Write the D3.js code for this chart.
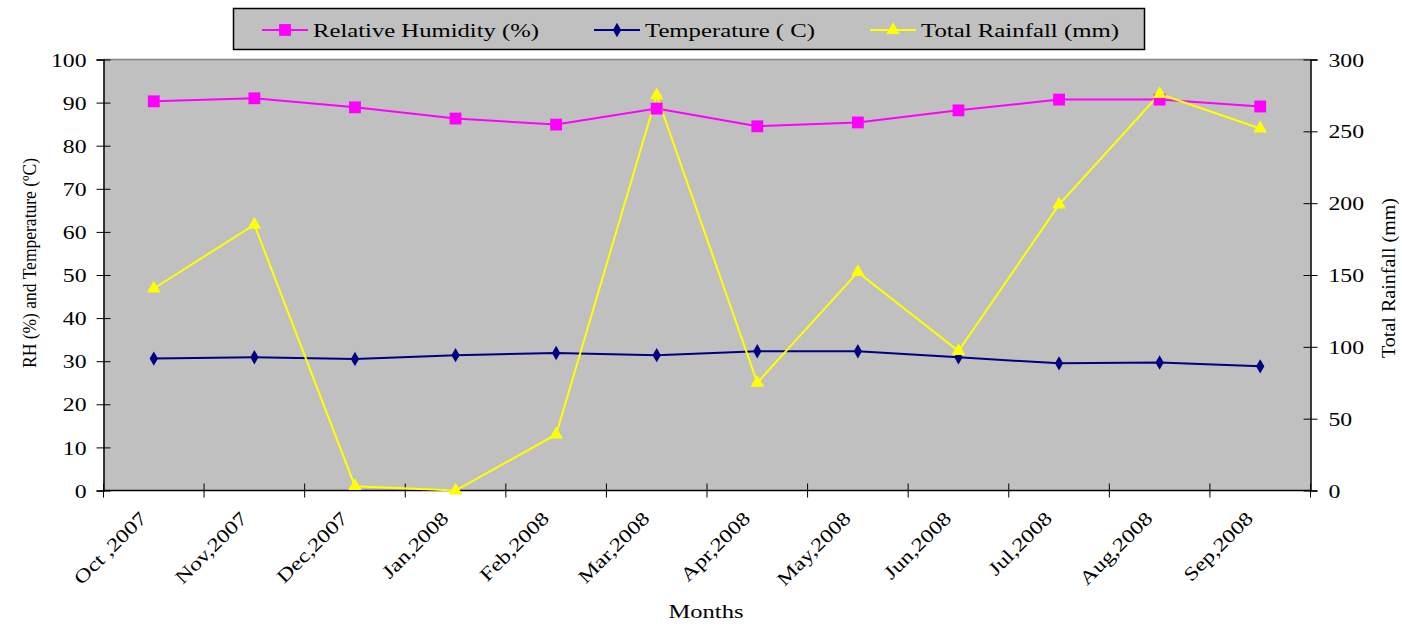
<!DOCTYPE html>
<html><head><meta charset="utf-8">
<script src="https://cdn.jsdelivr.net/npm/d3@7"></script>
<style>body{margin:0;background:#fff;} svg text{font-family:'Liberation Serif','Times New Roman',Times,serif !important;fill:#000;}</style>
</head><body>
<svg id="c" width="1402" height="626"></svg>
<script>
const months = ["Oct ,2007","Nov,2007","Dec,2007","Jan,2008","Feb,2008","Mar,2008","Apr,2008","May,2008","Jun,2008","Jul,2008","Aug,2008","Sep,2008"];
const humidity = [90.3,91.0,88.9,86.3,84.9,88.6,84.5,85.4,88.2,90.7,90.7,89.1];
const temperature = [30.6,30.9,30.5,31.4,31.9,31.4,32.3,32.3,30.9,29.5,29.7,28.8];
const rainfall = [140.6,185,3,0,39,275,75,152,97,199,276,252];
const leftTicks = [0,10,20,30,40,50,60,70,80,90,100];
const rightTicks = [0,50,100,150,200,250,300];

const FONT = "'Liberation Serif','Times New Roman',Times,serif";
const FS = 19, SX = 1.25;
const svg = d3.select("#c");
const L=103.5, R=1310.5, T=59.5, B=490.5;
const x = d3.scaleBand().domain(months).range([L,R]);
const yL = d3.scaleLinear().domain([0,100]).range([B,T]);
const yR = d3.scaleLinear().domain([0,300]).range([B,T]);
const cx = m => x(m)+x.bandwidth()/2;

svg.append("rect").attr("x",L).attr("y",T).attr("width",R-L).attr("height",B-T).attr("fill","#c0c0c0");
svg.append("line").attr("x1",L).attr("x2",R).attr("y1",T).attr("y2",T).attr("stroke","#808080").attr("stroke-width",1.5);

// left axis
const gl = svg.append("g").attr("transform",`translate(${L},0)`)
  .call(d3.axisLeft(yL).tickValues(leftTicks).tickSize(7));
gl.selectAll(".tick line").attr("x2",-7).attr("x1",7);
gl.selectAll(".tick text").attr("x",0).attr("dy","0.35em").attr("text-anchor","end")
  .attr("transform",`translate(-17,0) scale(${SX},1)`);
// right axis
const gr = svg.append("g").attr("transform",`translate(${R},0)`)
  .call(d3.axisRight(yR).tickValues(rightTicks).tickSize(7));
gr.selectAll(".tick line").attr("x1",-7).attr("x2",7);
gr.selectAll(".tick text").attr("x",0).attr("dy","0.35em").attr("text-anchor","start")
  .attr("transform",`translate(18,0) scale(${SX},1)`);
// bottom axis with ticks at category boundaries
const gb = svg.append("g").attr("transform",`translate(0,${B})`);
gb.append("line").attr("x1",L).attr("x2",R).attr("stroke","#000").attr("stroke-width",1.5);
const bounds = months.map(m=>x(m)).concat([R]);
gb.selectAll("line.t").data(bounds).join("line").attr("class","t")
  .attr("x1",d=>d).attr("x2",d=>d).attr("y1",-7).attr("y2",7).attr("stroke","#000");
gb.selectAll("text").data(months).join("text")
  .attr("text-anchor","end")
  .attr("transform",d=>`translate(${cx(d)-6},${29}) rotate(-45) scale(${SX},1)`)
  .text(d=>d);
[gl,gr].forEach(g=>{g.select(".domain").attr("stroke","#000").attr("stroke-width",1.5);
  g.selectAll(".tick line").attr("stroke","#000");});
svg.selectAll("g").attr("font-family",FONT).attr("font-size",FS);

// lines
const lineL = d3.line().x((d,i)=>cx(months[i])).y(d=>yL(d));
const lineR = d3.line().x((d,i)=>cx(months[i])).y(d=>yR(d));
svg.append("path").attr("d",lineL(humidity)).attr("fill","none").attr("stroke","#ff00ff").attr("stroke-width",2);
svg.append("path").attr("d",lineL(temperature)).attr("fill","none").attr("stroke","#000080").attr("stroke-width",2);
svg.append("path").attr("d",lineR(rainfall)).attr("fill","none").attr("stroke","#ffff00").attr("stroke-width",2);

const sq = d3.symbol().type(d3.symbolSquare).size(140);
const dm = d3.symbol().type(d3.symbolDiamond).size(60);
const tr = d3.symbol().type(d3.symbolTriangle).size(80);
svg.selectAll("path.h").data(humidity).join("path").attr("class","h").attr("d",sq)
  .attr("transform",(d,i)=>`translate(${cx(months[i])},${yL(d)})`).attr("fill","#ff00ff");
svg.selectAll("path.tm").data(temperature).join("path").attr("class","tm").attr("d",dm)
  .attr("transform",(d,i)=>`translate(${cx(months[i])},${yL(d)})`).attr("fill","#000080");
svg.selectAll("path.r").data(rainfall).join("path").attr("class","r").attr("d",tr)
  .attr("transform",(d,i)=>`translate(${cx(months[i])},${yR(d)})`).attr("fill","#ffff00");

// axis titles
const title = (txt,tx,ty,rot,len)=>svg.append("text").attr("transform",`translate(${tx},${ty}) rotate(${rot})`)
  .attr("text-anchor","middle").attr("font-family",FONT).attr("font-size",FS)
  .attr("textLength",len).attr("lengthAdjust","spacingAndGlyphs").text(txt);
title("Months",706,618,0,75);
title("RH (%) and Temperature (ºC)",36,263,-90,210);
title("Total Rainfall (mm)",1395,278,-90,160);

// legend
const lg = svg.append("g");
lg.append("rect").attr("x",233.5).attr("y",8.5).attr("width",911).attr("height",41).attr("fill","#c0c0c0").attr("stroke","#000").attr("stroke-width",1.5);
const legNames = ["Relative Humidity (%)","Temperature ( C)","Total Rainfall (mm)"];
const legColors = ["#ff00ff","#000080","#ffff00"];
const legSyms = [sq,dm,tr];
const legX = [262,594,870];
const legLen = [226,170,198];
legNames.forEach((n,i)=>{
  lg.append("line").attr("x1",legX[i]).attr("x2",legX[i]+46).attr("y1",30).attr("y2",30).attr("stroke",legColors[i]).attr("stroke-width",2);
  lg.append("path").attr("d",legSyms[i]).attr("transform",`translate(${legX[i]+23},30)`).attr("fill",legColors[i]);
  lg.append("text").attr("x",legX[i]+51).attr("y",37).attr("font-family",FONT).attr("font-size",FS)
    .attr("textLength",legLen[i]).attr("lengthAdjust","spacingAndGlyphs").text(n);
});
</script>
</body></html>
